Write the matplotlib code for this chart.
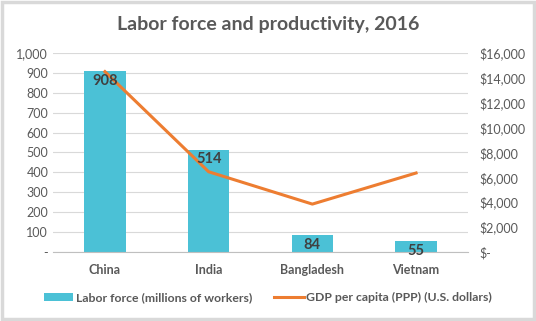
import matplotlib.pyplot as plt
import matplotlib.patches as mpatches
import numpy as np

# data
countries = ["China", "India", "Bangladesh", "Vietnam"]
labor_force = [908, 514, 84, 55]
gdp_per_capita = [14500, 6450, 3850, 6350]
left_ticks = [0, 100, 200, 300, 400, 500, 600, 700, 800, 900, 1000]
right_ticks = [0, 2000, 4000, 6000, 8000, 10000, 12000, 14000, 16000]

plt.rcParams["font.family"] = ["Lato", "DejaVu Sans"]

bar_color = "#4BC1D6"
line_color = "#ED7D31"
text_color = "#595959"

fig = plt.figure(figsize=(5.36, 3.21), dpi=100)
fig.patch.set_facecolor("white")
# grey frame like the Excel chart border
fig.patches.append(mpatches.Rectangle((0.004, 0.006), 0.992, 0.988, transform=fig.transFigure,
                                      fill=False, edgecolor="#D9D9D9", linewidth=2.5))

ax = fig.add_axes([0.099, 0.215, 0.774, 0.62])
x = np.arange(len(countries))
bars = ax.bar(x, labor_force, width=0.4, color=bar_color, zorder=2,
              label="Labor force (millions of workers)")
ax.set_ylim(0, 1000)
ax.set_xlim(-0.5, len(countries) - 0.5)
ax.set_yticks(left_ticks)
ax.set_yticklabels(["-" if t == 0 else f"{t:,}" for t in left_ticks])
ax.set_xticks(x)
ax.set_xticklabels(countries, fontweight="bold")
ax.grid(axis="y", color="#D9D9D9", linewidth=0.8, zorder=0)
ax.set_axisbelow(True)
for s in ["top", "right", "left"]:
    ax.spines[s].set_visible(False)
ax.spines["bottom"].set_color("#BFBFBF")
ax.tick_params(axis="both", length=0, colors=text_color, labelsize=9)
ax.tick_params(axis="x", pad=9)

ax2 = ax.twinx()
ax2.plot(x, gdp_per_capita, color=line_color, linewidth=2.2, zorder=3,
         label="GDP per capita (PPP) (U.S. dollars)")
ax2.set_ylim(0, 16000)
ax2.set_yticks(right_ticks)
ax2.set_yticklabels(["$-" if t == 0 else f"${t:,}" for t in right_ticks])
for s in ["top", "right", "left", "bottom"]:
    ax2.spines[s].set_visible(False)
ax2.tick_params(axis="y", length=0, colors=text_color, labelsize=9, pad=8)

# bar labels drawn on top of the line
for xi, v in zip(x, labor_force):
    ax2.text(xi, v - 14, str(v), transform=ax.transData, ha="center", va="top",
             fontsize=10.5, fontweight="bold", color="#404040", zorder=5)

fig.text(0.5, 0.925, "Labor force and productivity, 2016", ha="center", va="center",
         fontsize=14, fontweight="bold", color=text_color)

handles = [bars, ax2.get_lines()[0]]
labels = [h.get_label() for h in handles]
fig.legend(handles, labels, loc="center", bbox_to_anchor=(0.5, 0.072), ncol=2,
           frameon=False, fontsize=8.8, labelcolor=text_color, handlelength=2.4,
           handleheight=0.7, columnspacing=1.8, handletextpad=0.2)
for t in fig.legends[0].get_texts():
    t.set_fontweight("bold")

fig.savefig("out.png", dpi=100)
